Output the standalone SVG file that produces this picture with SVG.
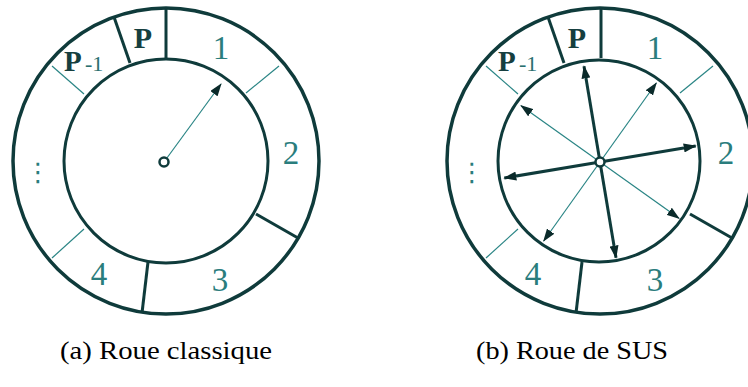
<svg xmlns="http://www.w3.org/2000/svg" width="748" height="387" viewBox="0 0 748 387">
<style>
.bg{fill:#ffffff}
.ring{fill:none;stroke:#0f3b3b;stroke-width:3.5}
.inner{fill:none;stroke:#0f3b3b;stroke-width:3}
.thick{stroke:#0f3b3b;stroke-width:3;stroke-linecap:butt}
.thin{stroke:#2a8585;stroke-width:1.2}
.hub{fill:#ffffff;stroke:#0f3b3b;stroke-width:2.5}
.num{font-family:"Liberation Serif","Times New Roman",serif;font-size:33px;fill:#2a7d7d;text-anchor:middle}
.pb{font-family:"Liberation Serif","Times New Roman",serif;font-size:30px;font-weight:bold;fill:#163f3f;text-anchor:middle}
.pm{font-family:"Liberation Serif","Times New Roman",serif;font-size:29px;font-weight:bold;fill:#163f3f}
.sub{font-family:"Liberation Serif","Times New Roman",serif;font-size:22px;fill:#2a6f6f}
.dots{font-family:"DejaVu Sans",sans-serif;font-size:26px;fill:#2a7d7d;text-anchor:middle}
.cap{font-family:"Liberation Serif","Times New Roman",serif;font-size:25px;fill:#000000}
.spk{stroke:#0f3b3b;stroke-width:3;marker-end:url(#ah)}
.spt{stroke:#2a8585;stroke-width:1.2;marker-end:url(#ah)}
</style>
<defs>
<marker id="ah" markerUnits="userSpaceOnUse" markerWidth="13" markerHeight="9" refX="12" refY="4.5" orient="auto">
<path d="M0,0 L13,4.5 L0,9 z" fill="#0a2a2a"/>
</marker>
</defs>
<rect class="bg" x="0" y="0" width="748" height="387"/>

<g id="wheel-a">
<circle class="ring" cx="166" cy="161" r="153"/>
<circle class="inner" cx="166" cy="161" r="102"/>
<line class="thick" x1="166" y1="8" x2="166" y2="59"/>
<line class="thick" x1="114" y1="17" x2="130" y2="63"/>
<line class="thick" x1="256" y1="214" x2="298" y2="238"/>
<line class="thick" x1="148" y1="262" x2="142" y2="313"/>
<line class="thin" x1="246" y1="93" x2="279" y2="66"/>
<line class="thin" x1="52" y1="66" x2="84" y2="94"/>
<line class="thin" x1="84" y1="229" x2="52" y2="258"/>
<text class="pb" x="143" y="48">P</text>
<text class="pm" x="64" y="71">P</text><text class="sub" x="85" y="71">-1</text>
<text class="num" x="221" y="59">1</text>
<text class="num" x="291" y="164">2</text>
<text class="num" x="220" y="291">3</text>
<text class="num" x="99" y="285">4</text>
<text class="dots" x="38" y="181">⋮</text>
</g>

<g id="wheel-b">
<circle class="ring" cx="600" cy="161" r="153"/>
<circle class="inner" cx="599" cy="161" r="101"/>
<line class="thick" x1="601" y1="8" x2="601" y2="58"/>
<line class="thick" x1="548" y1="17" x2="564" y2="63"/>
<line class="thick" x1="690" y1="214" x2="732" y2="238"/>
<line class="thick" x1="582" y1="262" x2="576" y2="313"/>
<line class="thin" x1="680" y1="93" x2="713" y2="66"/>
<line class="thin" x1="486" y1="66" x2="518" y2="94"/>
<line class="thin" x1="518" y1="229" x2="486" y2="258"/>
<text class="pb" x="577" y="48">P</text>
<text class="pm" x="498" y="71">P</text><text class="sub" x="519" y="71">-1</text>
<text class="num" x="655" y="59">1</text>
<text class="num" x="726" y="164">2</text>
<text class="num" x="655" y="291">3</text>
<text class="num" x="533" y="285">4</text>
<text class="dots" x="472" y="181">⋮</text>
</g>

<g id="connectors">
<line class="spt" x1="164" y1="162" x2="221" y2="84"/>
<line class="spk" x1="600" y1="162" x2="695.7" y2="146"/>
<line class="spt" x1="600" y1="162" x2="656.3" y2="83"/>
<line class="spk" x1="600" y1="162" x2="584" y2="66.3"/>
<line class="spt" x1="600" y1="162" x2="521" y2="105.7"/>
<line class="spk" x1="600" y1="162" x2="504.3" y2="178"/>
<line class="spt" x1="600" y1="162" x2="543.7" y2="241"/>
<line class="spk" x1="600" y1="162" x2="616" y2="257.7"/>
<line class="spt" x1="600" y1="162" x2="679" y2="218.3"/>
</g>

<g id="hub-a"><circle class="hub" cx="164" cy="162" r="4.5"/></g>
<g id="hub-b"><circle class="hub" cx="600" cy="162" r="4.5"/></g>

<g id="captions">
<text class="cap" x="60" y="359" textLength="212" lengthAdjust="spacingAndGlyphs">(a) Roue classique</text>
<text class="cap" x="476" y="359" textLength="192" lengthAdjust="spacingAndGlyphs">(b) Roue de SUS</text>
</g>
</svg>
